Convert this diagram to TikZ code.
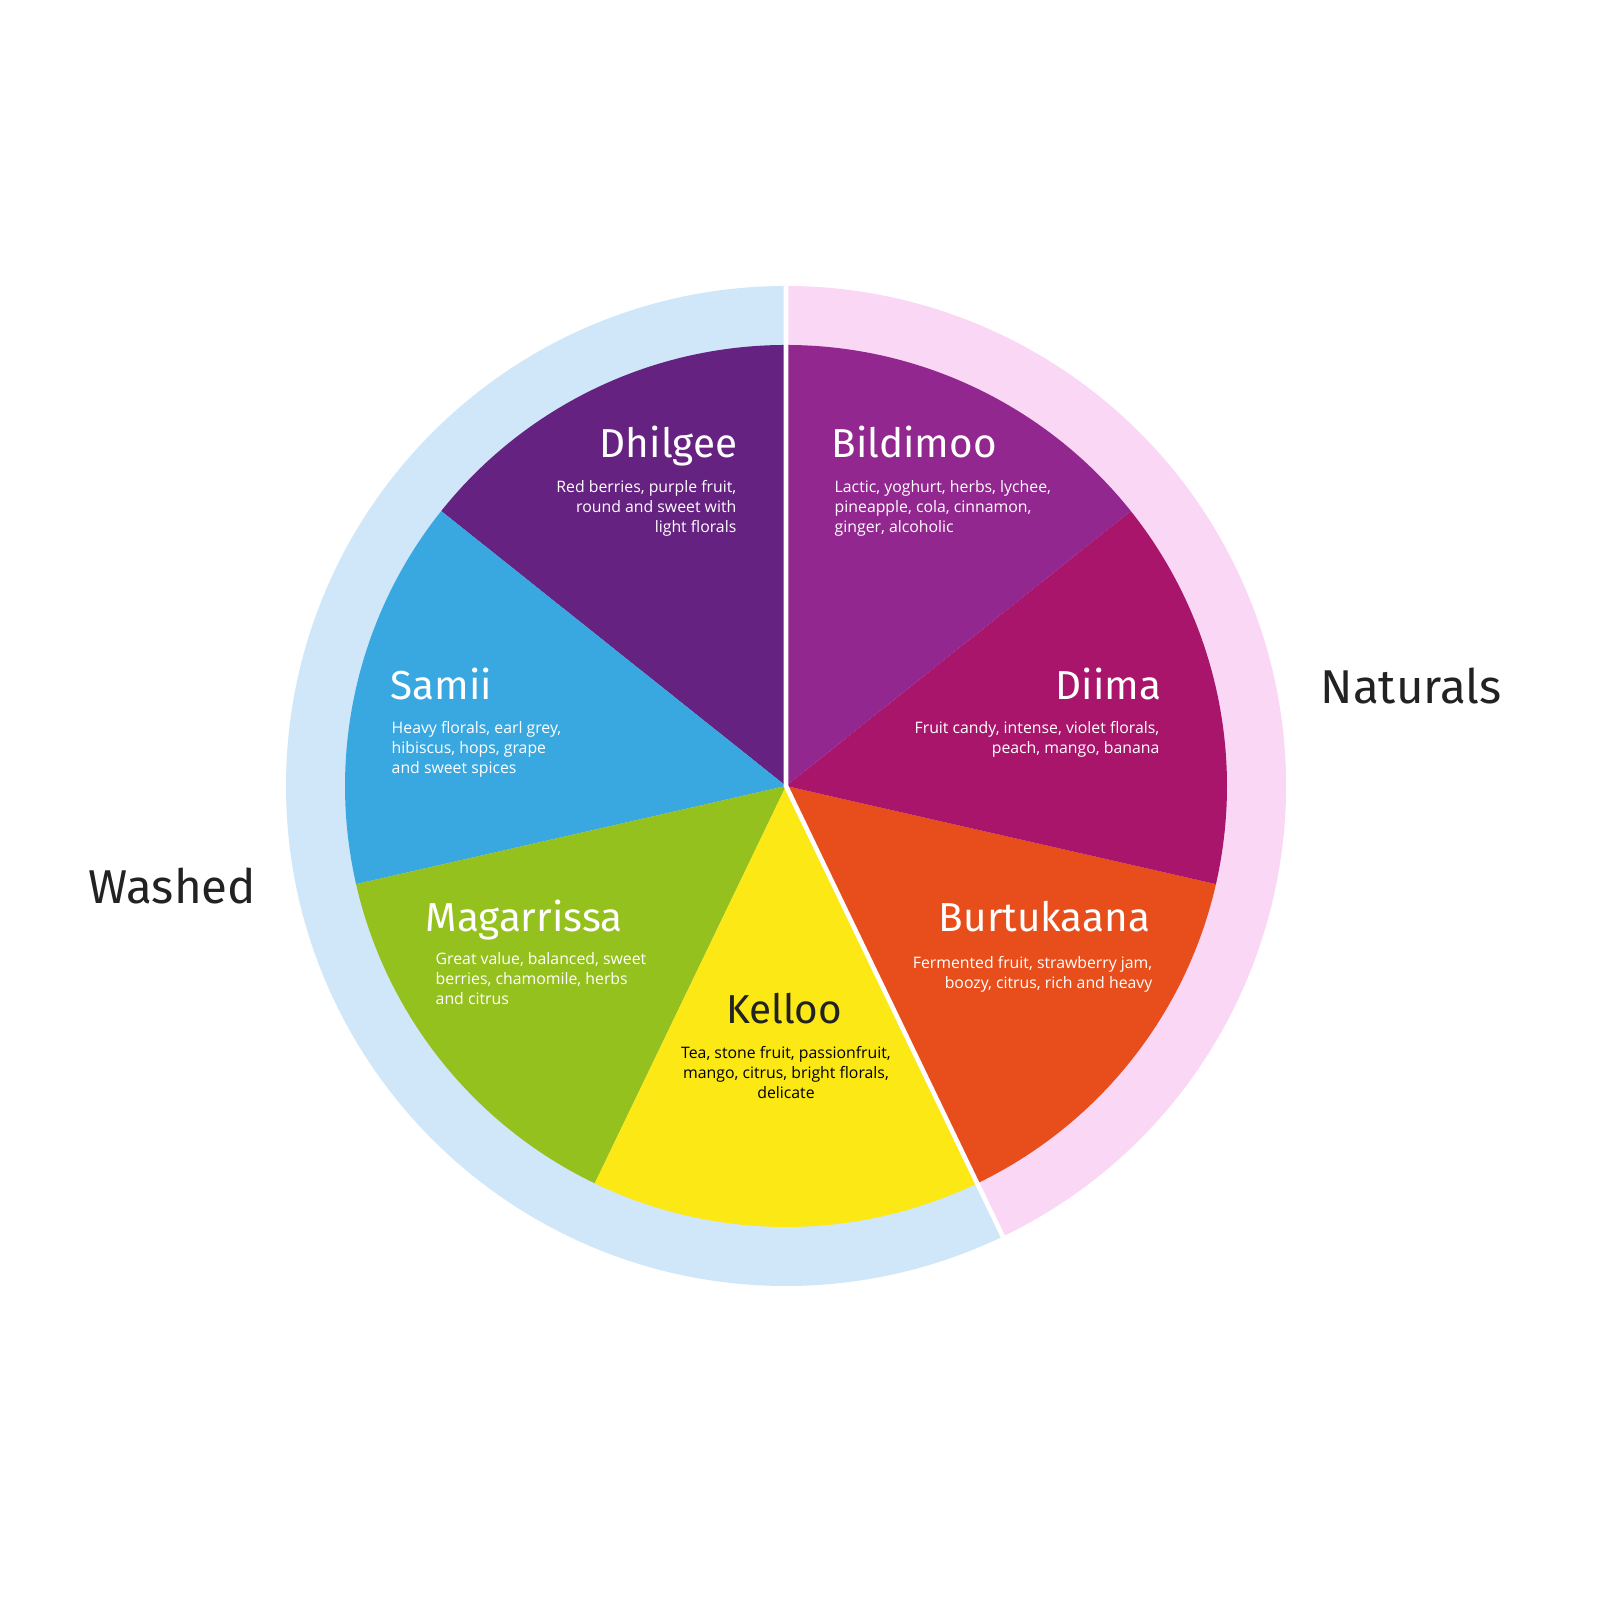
\documentclass[tikz,border=0pt]{standalone}
\usepackage{fontspec}
\usetikzlibrary{calc}
\setmainfont{Open Sans}
\newfontfamily\titlefont{Fira Sans}
\definecolor{cDhil}{HTML}{652281}
\definecolor{cBild}{HTML}{92278F}
\definecolor{cDiim}{HTML}{A8156A}
\definecolor{cBurt}{HTML}{E84E1B}
\definecolor{cKell}{HTML}{FBE815}
\definecolor{cMaga}{HTML}{95C11F}
\definecolor{cSami}{HTML}{3AA8E0}
\definecolor{ringB}{HTML}{CFE7F8}
\definecolor{ringP}{HTML}{FAD7F5}
\definecolor{darktxt}{HTML}{222222}
\tikzset{
 ttl/.style={inner sep=0pt,font=\titlefont\fontsize{11.5pt}{13pt}\selectfont\mdseries},
 dsc/.style={inner sep=0pt,font=\fontsize{4.5pt}{5.7pt}\selectfont},
 grp/.style={inner sep=0pt,text=darktxt,font=\titlefont\fontsize{13.5pt}{15pt}\selectfont}
}
\begin{document}
\begin{tikzpicture}
\useasboundingbox (0,0) rectangle (16,16);
\coordinate (C) at (7.86,8.14);
\def\R{5.0}\def\r{4.41}
\fill[ringB] (C) -- ++(90:\R) arc[start angle=90,end angle=295.7,radius=\R] -- cycle;
\fill[ringP] (C) -- ++(-64.3:\R) arc[start angle=-64.3,end angle=90,radius=\R] -- cycle;
\foreach \a/\c in {90/cDhil,141.43/cSami,192.86/cMaga,244.29/cKell,295.71/cBurt,347.14/cDiim,398.57/cBild}{
 \fill[\c] (C) -- ++(\a:\r) arc[start angle=\a,end angle=\a+51.43,radius=\r] -- cycle;
}
\coordinate (T) at ($(C)+(90:\R)$);
\coordinate (B) at ($(C)+(295.7:\R)$);
\draw[white,line width=1.3pt] (T) -- (C) -- (B);
\node[ttl,text=white,anchor=base east] (t1) at (7.38,16-4.58) {Dhilgee};
\node[dsc,text=white,anchor=north east,align=right] (d1) at (7.37,16-4.80) {Red berries, purple fruit,\\round and sweet with\\light florals};
\node[ttl,text=white,anchor=base west] (t2) at (8.31,16-4.58) {Bildimoo};
\node[dsc,text=white,anchor=north west,align=left] (d2) at (8.34,16-4.80) {Lactic, yoghurt, herbs, lychee,\\pineapple, cola, cinnamon,\\ginger, alcoholic};
\node[ttl,text=white,anchor=base east] (t3) at (11.62,16-7.00) {Diima};
\node[dsc,text=white,anchor=north east,align=right] (d3) at (11.60,16-7.21) {Fruit candy, intense, violet florals,\\peach, mango, banana};
\node[ttl,text=white,anchor=base west] (t4) at (3.90,16-7.00) {Samii};
\node[dsc,text=white,anchor=north west,align=left] (d4) at (3.91,16-7.21) {Heavy florals, earl grey,\\hibiscus, hops, grape\\and sweet spices};
\node[ttl,text=white,anchor=base west] (t5) at (4.25,16-9.32) {Magarrissa};
\node[dsc,text=white,anchor=north west,align=left] (d5) at (4.35,16-9.52) {Great value, balanced, sweet\\berries, chamomile, herbs\\and citrus};
\node[ttl,text=darktxt,anchor=base] (t6) at (7.84,16-10.24) {Kelloo};
\node[dsc,text=black,anchor=north,align=center] (d6) at (7.86,16-10.46) {Tea, stone fruit, passionfruit,\\mango, citrus, bright florals,\\delicate};
\node[ttl,text=white,anchor=base east] (t7) at (11.51,16-9.32) {Burtukaana};
\node[dsc,text=white,anchor=north east,align=right] (d7) at (11.53,16-9.56) {Fermented fruit, strawberry jam,\\boozy, citrus, rich and heavy};
\node[grp,anchor=base west] (g1) at (13.20,16-7.04) {Naturals};
\node[grp,anchor=base west] (g2) at (0.88,16-9.04) {Washed};
\end{tikzpicture}
\end{document}
